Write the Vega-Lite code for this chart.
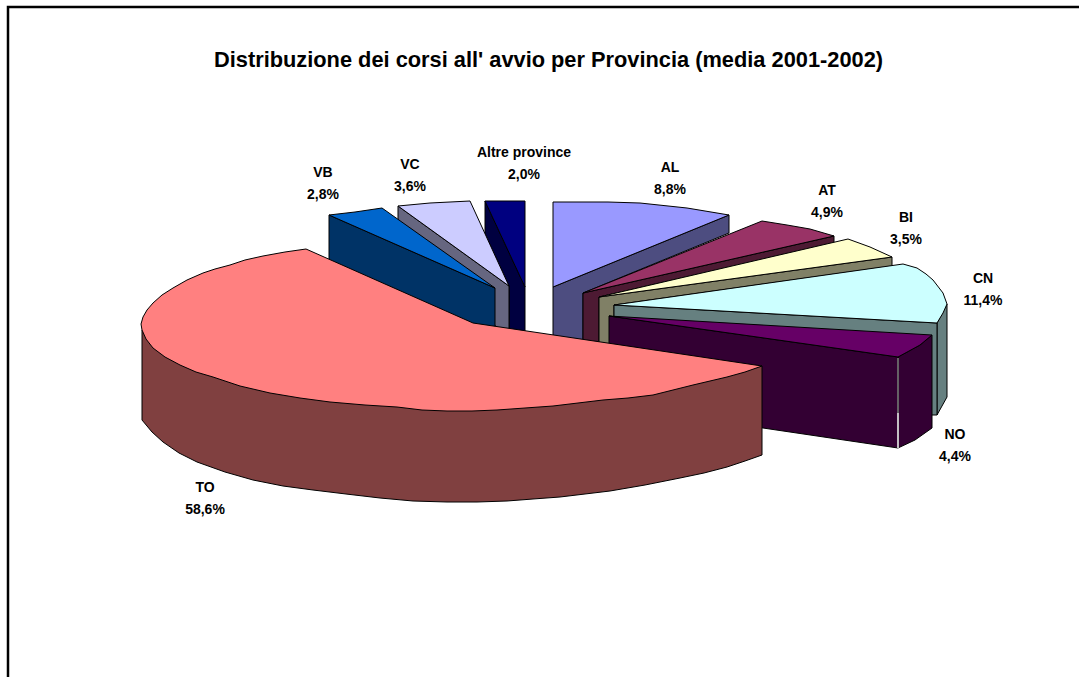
{
  "$schema": "https://vega.github.io/schema/vega-lite/v6.json",
  "width": 1079,
  "height": 677,
  "padding": 0,
  "autosize": {"type": "none"},
  "background": "#ffffff",
  "view": {"stroke": null},
  "title": {
    "text": "Distribuzione dei corsi all' avvio per Provincia (media 2001-2002)",
    "font": "Liberation Sans",
    "fontWeight": "bold",
    "fontSize": 21.8,
    "color": "#000000",
    "anchor": "middle",
    "dx": 9,
    "offset": -89,
    "baseline": "alphabetic"
  },
  "datasets": {
    "cornice": [
      {"n": 1, "x": 8, "y": 677},
      {"n": 2, "x": 8, "y": 7},
      {"n": 3, "x": 1079, "y": 7}
    ],
    "facce": [
      {"face": "Altre parete", "n": 1, "x": 485, "y": 201},
      {"face": "Altre parete", "n": 2, "x": 525, "y": 287},
      {"face": "Altre parete", "n": 3, "x": 525, "y": 335},
      {"face": "Altre parete", "n": 4, "x": 509, "y": 335},
      {"face": "Altre parete", "n": 5, "x": 509, "y": 286},
      {"face": "Altre parete", "n": 6, "x": 485, "y": 234},
      {"face": "Altre", "n": 1, "x": 485, "y": 201},
      {"face": "Altre", "n": 2, "x": 525, "y": 201},
      {"face": "Altre", "n": 3, "x": 525, "y": 287},

      {"face": "VC parete", "n": 1, "x": 398, "y": 206},
      {"face": "VC parete", "n": 2, "x": 509, "y": 286},
      {"face": "VC parete", "n": 3, "x": 509, "y": 335},
      {"face": "VC parete", "n": 4, "x": 398, "y": 260},
      {"face": "VC", "n": 1, "x": 509, "y": 286},
      {"face": "VC", "n": 2, "x": 398, "y": 206},
      {"face": "VC", "n": 3, "x": 430, "y": 203},
      {"face": "VC", "n": 4, "x": 470, "y": 201},

      {"face": "VB parete", "n": 1, "x": 329, "y": 215},
      {"face": "VB parete", "n": 2, "x": 495, "y": 288},
      {"face": "VB parete", "n": 3, "x": 495, "y": 335},
      {"face": "VB parete", "n": 4, "x": 473, "y": 330},
      {"face": "VB parete", "n": 5, "x": 329, "y": 262},
      {"face": "VB", "n": 1, "x": 495, "y": 288},
      {"face": "VB", "n": 2, "x": 329, "y": 215},
      {"face": "VB", "n": 3, "x": 355, "y": 212},
      {"face": "VB", "n": 4, "x": 382, "y": 208},

      {"face": "AL parete", "n": 1, "x": 553, "y": 287},
      {"face": "AL parete", "n": 2, "x": 729, "y": 215},
      {"face": "AL parete", "n": 3, "x": 729, "y": 233},
      {"face": "AL parete", "n": 4, "x": 583, "y": 293},
      {"face": "AL parete", "n": 5, "x": 583, "y": 345},
      {"face": "AL parete", "n": 6, "x": 553, "y": 345},
      {"face": "AL", "n": 1, "x": 553, "y": 287},
      {"face": "AL", "n": 2, "x": 553, "y": 202},
      {"face": "AL", "n": 3, "x": 608, "y": 202},
      {"face": "AL", "n": 4, "x": 640, "y": 203},
      {"face": "AL", "n": 5, "x": 687, "y": 208},
      {"face": "AL", "n": 6, "x": 729, "y": 215},

      {"face": "AT parete", "n": 1, "x": 583, "y": 293},
      {"face": "AT parete", "n": 2, "x": 834, "y": 236},
      {"face": "AT parete", "n": 3, "x": 834, "y": 243},
      {"face": "AT parete", "n": 4, "x": 599, "y": 297},
      {"face": "AT parete", "n": 5, "x": 599, "y": 345},
      {"face": "AT parete", "n": 6, "x": 583, "y": 345},
      {"face": "AT", "n": 1, "x": 583, "y": 293},
      {"face": "AT", "n": 2, "x": 762, "y": 221},
      {"face": "AT", "n": 3, "x": 787, "y": 225},
      {"face": "AT", "n": 4, "x": 810, "y": 229},
      {"face": "AT", "n": 5, "x": 834, "y": 236},

      {"face": "BI parete", "n": 1, "x": 599, "y": 297},
      {"face": "BI parete", "n": 2, "x": 892, "y": 257},
      {"face": "BI parete", "n": 3, "x": 892, "y": 266},
      {"face": "BI parete", "n": 4, "x": 614, "y": 305},
      {"face": "BI parete", "n": 5, "x": 614, "y": 350},
      {"face": "BI parete", "n": 6, "x": 599, "y": 350},
      {"face": "BI", "n": 1, "x": 599, "y": 297},
      {"face": "BI", "n": 2, "x": 848, "y": 239},
      {"face": "BI", "n": 3, "x": 870, "y": 247},
      {"face": "BI", "n": 4, "x": 892, "y": 257},

      {"face": "CN esterna", "n": 1, "x": 937, "y": 323},
      {"face": "CN esterna", "n": 2, "x": 947, "y": 304},
      {"face": "CN esterna", "n": 3, "x": 947, "y": 397},
      {"face": "CN esterna", "n": 4, "x": 937, "y": 415},
      {"face": "CN parete", "n": 1, "x": 614, "y": 305},
      {"face": "CN parete", "n": 2, "x": 937, "y": 323},
      {"face": "CN parete", "n": 3, "x": 937, "y": 415},
      {"face": "CN parete", "n": 4, "x": 614, "y": 415},
      {"face": "CN", "n": 1, "x": 614, "y": 305},
      {"face": "CN", "n": 2, "x": 903, "y": 264},
      {"face": "CN", "n": 3, "x": 917, "y": 268},
      {"face": "CN", "n": 4, "x": 926, "y": 274},
      {"face": "CN", "n": 5, "x": 933, "y": 280},
      {"face": "CN", "n": 6, "x": 943, "y": 293},
      {"face": "CN", "n": 7, "x": 947, "y": 304},
      {"face": "CN", "n": 8, "x": 943, "y": 313},
      {"face": "CN", "n": 9, "x": 937, "y": 323},

      {"face": "NO esterna", "n": 1, "x": 898, "y": 357},
      {"face": "NO esterna", "n": 2, "x": 920, "y": 345},
      {"face": "NO esterna", "n": 3, "x": 932, "y": 335},
      {"face": "NO esterna", "n": 4, "x": 932, "y": 428},
      {"face": "NO esterna", "n": 5, "x": 915, "y": 440},
      {"face": "NO esterna", "n": 6, "x": 898, "y": 448},
      {"face": "NO parete", "n": 1, "x": 609, "y": 316},
      {"face": "NO parete", "n": 2, "x": 898, "y": 357},
      {"face": "NO parete", "n": 3, "x": 898, "y": 448},
      {"face": "NO parete", "n": 4, "x": 763, "y": 428},
      {"face": "NO parete", "n": 5, "x": 609, "y": 405},
      {"face": "NO", "n": 1, "x": 609, "y": 316},
      {"face": "NO", "n": 2, "x": 932, "y": 335},
      {"face": "NO", "n": 3, "x": 920, "y": 345},
      {"face": "NO", "n": 4, "x": 898, "y": 357},

      {"face": "TO parete", "n": 1, "x": 142, "y": 330},
      {"face": "TO parete", "n": 2, "x": 762, "y": 366},
      {"face": "TO parete", "n": 3, "x": 762, "y": 455},
      {"face": "TO parete", "n": 4, "x": 745, "y": 461},
      {"face": "TO parete", "n": 5, "x": 727, "y": 467},
      {"face": "TO parete", "n": 6, "x": 704, "y": 473},
      {"face": "TO parete", "n": 7, "x": 680, "y": 478},
      {"face": "TO parete", "n": 8, "x": 645, "y": 485},
      {"face": "TO parete", "n": 9, "x": 610, "y": 491},
      {"face": "TO parete", "n": 10, "x": 585, "y": 494},
      {"face": "TO parete", "n": 11, "x": 560, "y": 497},
      {"face": "TO parete", "n": 12, "x": 533, "y": 499},
      {"face": "TO parete", "n": 13, "x": 507, "y": 501},
      {"face": "TO parete", "n": 14, "x": 477, "y": 502},
      {"face": "TO parete", "n": 15, "x": 447, "y": 502},
      {"face": "TO parete", "n": 16, "x": 413, "y": 501},
      {"face": "TO parete", "n": 17, "x": 380, "y": 498},
      {"face": "TO parete", "n": 18, "x": 346, "y": 494},
      {"face": "TO parete", "n": 19, "x": 313, "y": 490},
      {"face": "TO parete", "n": 20, "x": 283, "y": 486},
      {"face": "TO parete", "n": 21, "x": 253, "y": 480},
      {"face": "TO parete", "n": 22, "x": 225, "y": 472},
      {"face": "TO parete", "n": 23, "x": 197, "y": 462},
      {"face": "TO parete", "n": 24, "x": 179, "y": 453},
      {"face": "TO parete", "n": 25, "x": 163, "y": 442},
      {"face": "TO parete", "n": 26, "x": 152, "y": 432},
      {"face": "TO parete", "n": 27, "x": 142, "y": 420},

      {"face": "TO", "n": 1, "x": 473, "y": 323},
      {"face": "TO", "n": 2, "x": 306, "y": 249},
      {"face": "TO", "n": 3, "x": 285, "y": 252},
      {"face": "TO", "n": 4, "x": 263, "y": 256},
      {"face": "TO", "n": 5, "x": 245, "y": 260},
      {"face": "TO", "n": 6, "x": 230, "y": 265},
      {"face": "TO", "n": 7, "x": 215, "y": 269},
      {"face": "TO", "n": 8, "x": 203, "y": 273},
      {"face": "TO", "n": 9, "x": 187, "y": 280},
      {"face": "TO", "n": 10, "x": 173, "y": 288},
      {"face": "TO", "n": 11, "x": 162, "y": 295},
      {"face": "TO", "n": 12, "x": 153, "y": 303},
      {"face": "TO", "n": 13, "x": 147, "y": 310},
      {"face": "TO", "n": 14, "x": 143, "y": 317},
      {"face": "TO", "n": 15, "x": 141, "y": 324},
      {"face": "TO", "n": 16, "x": 142, "y": 330},
      {"face": "TO", "n": 17, "x": 146, "y": 339},
      {"face": "TO", "n": 18, "x": 153, "y": 348},
      {"face": "TO", "n": 19, "x": 165, "y": 357},
      {"face": "TO", "n": 20, "x": 180, "y": 365},
      {"face": "TO", "n": 21, "x": 196, "y": 372},
      {"face": "TO", "n": 22, "x": 213, "y": 377},
      {"face": "TO", "n": 23, "x": 240, "y": 386},
      {"face": "TO", "n": 24, "x": 270, "y": 393},
      {"face": "TO", "n": 25, "x": 300, "y": 398},
      {"face": "TO", "n": 26, "x": 330, "y": 402},
      {"face": "TO", "n": 27, "x": 365, "y": 405},
      {"face": "TO", "n": 28, "x": 397, "y": 407},
      {"face": "TO", "n": 29, "x": 422, "y": 410},
      {"face": "TO", "n": 30, "x": 447, "y": 411},
      {"face": "TO", "n": 31, "x": 472, "y": 411},
      {"face": "TO", "n": 32, "x": 497, "y": 410},
      {"face": "TO", "n": 33, "x": 525, "y": 408},
      {"face": "TO", "n": 34, "x": 553, "y": 406},
      {"face": "TO", "n": 35, "x": 578, "y": 403},
      {"face": "TO", "n": 36, "x": 603, "y": 400},
      {"face": "TO", "n": 37, "x": 628, "y": 398},
      {"face": "TO", "n": 38, "x": 653, "y": 395},
      {"face": "TO", "n": 39, "x": 673, "y": 390},
      {"face": "TO", "n": 40, "x": 693, "y": 385},
      {"face": "TO", "n": 41, "x": 710, "y": 381},
      {"face": "TO", "n": 42, "x": 727, "y": 377},
      {"face": "TO", "n": 43, "x": 745, "y": 372},
      {"face": "TO", "n": 44, "x": 762, "y": 366}
    ],
    "spigolo": [
      {"tratto": "chiaro", "n": 1, "x": 898, "y": 413},
      {"tratto": "chiaro", "n": 2, "x": 898, "y": 448},
      {"tratto": "medio", "n": 1, "x": 898, "y": 358},
      {"tratto": "medio", "n": 2, "x": 898, "y": 413}
    ],
    "province": [
      {"etichetta": "Altre province\n2,0%", "valore": 2.0, "x": 524, "y": 153},
      {"etichetta": "AL\n8,8%", "valore": 8.8, "x": 670, "y": 168},
      {"etichetta": "AT\n4,9%", "valore": 4.9, "x": 827, "y": 191},
      {"etichetta": "BI\n3,5%", "valore": 3.5, "x": 906, "y": 218},
      {"etichetta": "CN\n11,4%", "valore": 11.4, "x": 983, "y": 279},
      {"etichetta": "NO\n4,4%", "valore": 4.4, "x": 955, "y": 435},
      {"etichetta": "TO\n58,6%", "valore": 58.6, "x": 205, "y": 488},
      {"etichetta": "VB\n2,8%", "valore": 2.8, "x": 323, "y": 173},
      {"etichetta": "VC\n3,6%", "valore": 3.6, "x": 410, "y": 165}
    ]
  },
  "encoding": {
    "x": {"field": "x", "type": "quantitative", "axis": null, "scale": {"domain": [0, 1079], "nice": false, "zero": false}},
    "y": {"field": "y", "type": "quantitative", "axis": null, "scale": {"domain": [0, 677], "reverse": true, "nice": false, "zero": false}}
  },
  "layer": [
    {
      "data": {"name": "cornice"},
      "mark": {"type": "line", "stroke": "#000000", "strokeWidth": 2.5, "clip": true},
      "encoding": {"order": {"field": "n", "type": "ordinal"}}
    },
    {
      "data": {"name": "facce"},
      "mark": {"type": "line", "interpolate": "linear-closed", "stroke": "#000000", "strokeWidth": 1, "strokeJoin": "round"},
      "encoding": {
        "detail": {"field": "face", "type": "nominal"},
        "order": {"field": "n", "type": "quantitative"},
        "fill": {
          "field": "face",
          "type": "nominal",
          "legend": null,
          "scale": {
            "domain": ["Altre", "Altre parete", "VC", "VC parete", "VB", "VB parete", "AL", "AL parete", "AT", "AT parete", "BI", "BI parete", "CN", "CN parete", "CN esterna", "NO", "NO parete", "NO esterna", "TO", "TO parete"],
            "range": ["#000080", "#000040", "#CCCCFF", "#666680", "#0066CC", "#003366", "#9999FF", "#4D4D80", "#993366", "#4D1A33", "#FFFFCC", "#808066", "#CCFFFF", "#668080", "#668080", "#660066", "#330033", "#330033", "#FF8080", "#804040"]
          }
        }
      }
    },
    {
      "data": {"name": "spigolo"},
      "mark": {"type": "line", "strokeWidth": 1.5},
      "encoding": {
        "detail": {"field": "tratto", "type": "nominal"},
        "order": {"field": "n", "type": "quantitative"},
        "stroke": {"field": "tratto", "type": "nominal", "legend": null, "scale": {"domain": ["chiaro", "medio"], "range": ["#ffffff", "#808080"]}}
      }
    },
    {
      "data": {"name": "province"},
      "mark": {"type": "text", "font": "Liberation Sans", "fontWeight": "bold", "fontSize": 14, "lineHeight": 22, "lineBreak": "\n", "align": "center", "baseline": "middle", "color": "#000000"},
      "encoding": {"text": {"field": "etichetta", "type": "nominal"}}
    }
  ]
}
